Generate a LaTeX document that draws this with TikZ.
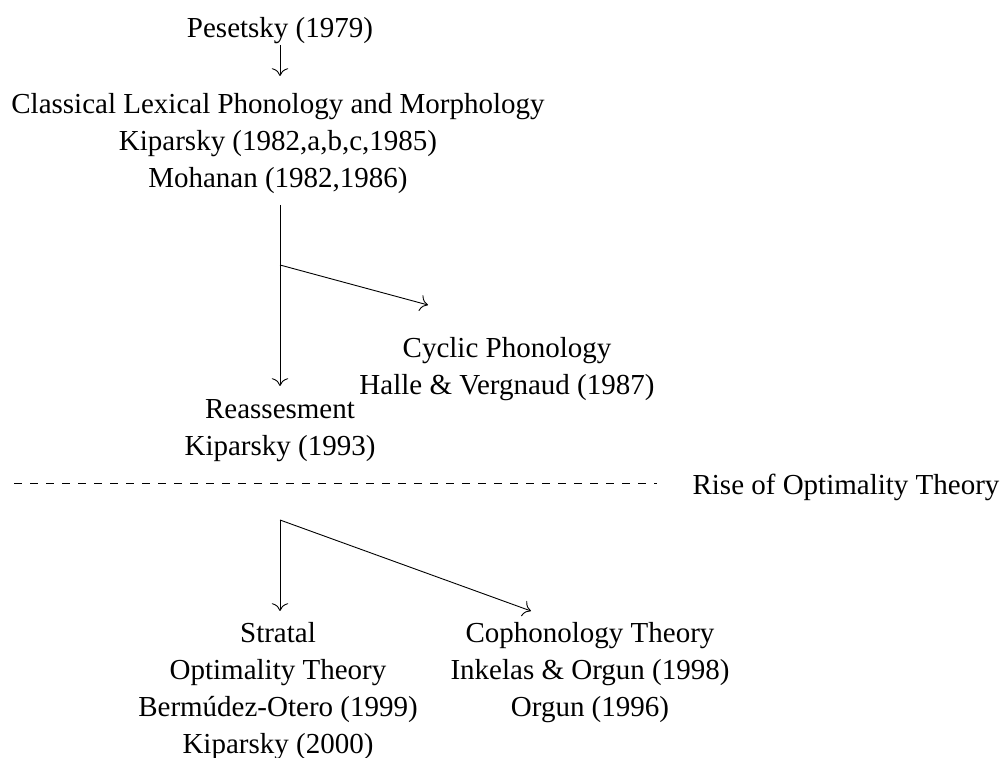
\documentclass[tikz,border=0pt]{standalone}
\usepackage{fontspec}
\setmainfont{Liberation Serif}
\usetikzlibrary{arrows.meta}
\begin{document}
\begin{tikzpicture}[x=0.5pt,y=-0.5pt,
  txt/.style={align=center,inner sep=0pt,font=\fontsize{14.5pt}{18.5pt}\selectfont},
  conn/.style={-{To[scale=1.5]},line width=0.45pt},
  sep/.style={line width=0.45pt,dash pattern=on 4pt off 4pt}]
\useasboundingbox (0,0) rectangle (1002,758);
\node[txt] (pes) at (280,31) {Pesetsky (1979)};
\node[txt] (cla) at (278,144) {Classical Lexical Phonology and Morphology\\Kiparsky (1982,a,b,c,1985)\\Mohanan (1982,1986)};
\node[txt] (cyc) at (507,369) {Cyclic Phonology\\Halle \& Vergnaud (1987)};
\node[txt] (rea) at (280,431) {Reassesment\\Kiparsky (1993)};
\node[txt] (rise) at (846,487) {Rise of Optimality Theory};
\node[txt] (str) at (278,691) {Stratal\\Optimality Theory\\Bermúdez-Otero (1999)\\Kiparsky (2000)};
\node[txt] (cop) at (590,673) {Cophonology Theory\\Inkelas \& Orgun (1998)\\Orgun (1996)};
\coordinate (pesb) at (280,45);
\coordinate (clat) at (280,76);
\coordinate (clab) at (280,205);
\coordinate (br1) at (280,265);
\coordinate (cyct) at (428,305);
\coordinate (reat) at (280,386);
\coordinate (dl) at (14,483);
\coordinate (dr) at (657,483);
\coordinate (br2) at (280,520);
\coordinate (strt) at (280,611);
\coordinate (copt) at (531,611);
\draw[conn] (pesb) -- (clat);
\draw[conn] (clab) -- (reat);
\draw[conn] (br1) -- (cyct);
\draw[sep] (dl) -- (dr);
\draw[conn] (br2) -- (strt);
\draw[conn] (br2) -- (copt);
\end{tikzpicture}
\end{document}
